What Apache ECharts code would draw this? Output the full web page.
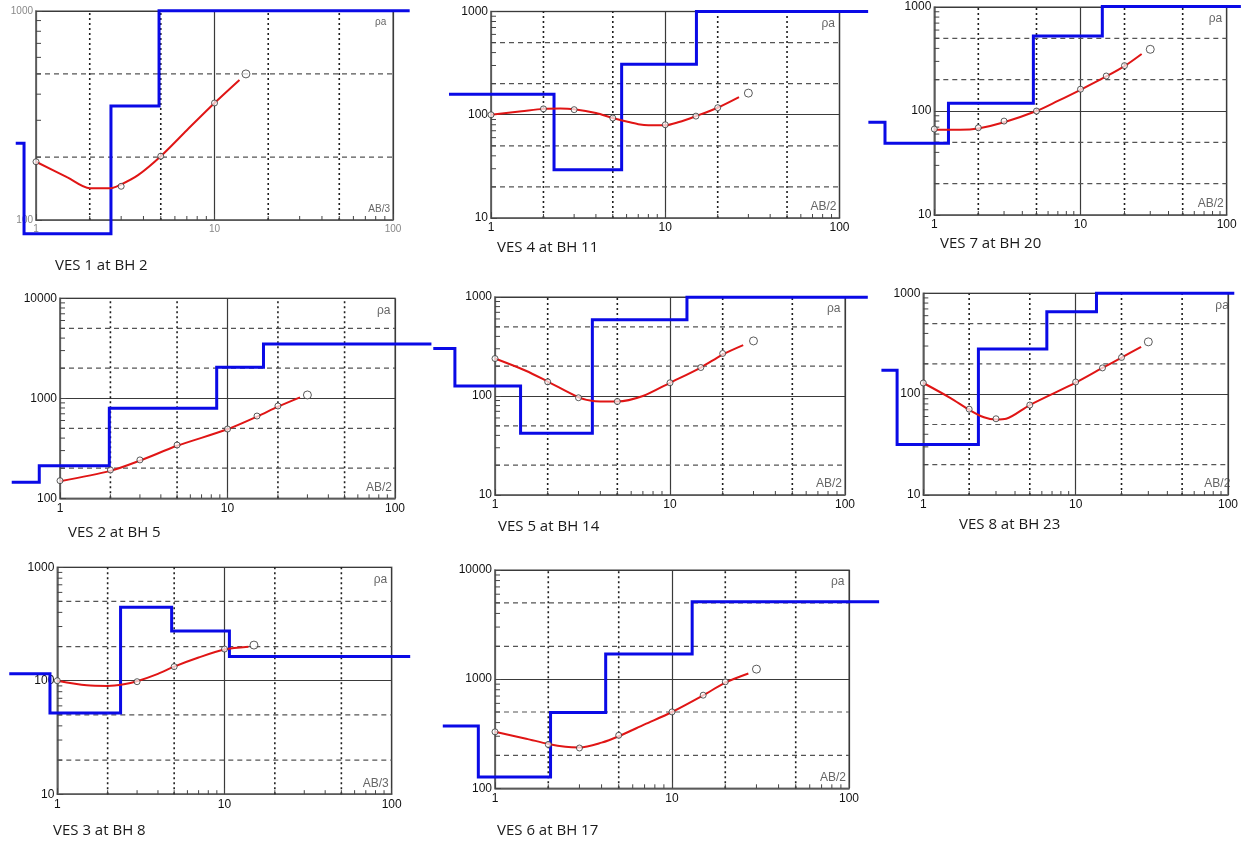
<!DOCTYPE html>
<html><head><meta charset="utf-8">
<script src="https://cdn.jsdelivr.net/npm/echarts@6/dist/echarts.min.js"></script>
<style>html,body{margin:0;padding:0;background:#fff}#c{width:1241px;height:844px}</style>
</head><body><div id="c"></div>
<script>
// ================= DATA =================
const titles = ['VES 1 at BH 2','VES 4 at BH 11','VES 7 at BH 20','VES 2 at BH 5','VES 5 at BH 14','VES 8 at BH 23','VES 3 at BH 8','VES 6 at BH 17'];
const xAxisNames = ['AB/3','AB/2','AB/2','AB/2','AB/2','AB/2','AB/3','AB/2'];
const yAxisName = 'ρa';
const xRange = [1, 100];
const xGridVals = [2, 5, 20, 50];
const yRanges = [[100,1000],[10,1000],[10,1000],[100,10000],[10,1000],[10,1000],[10,1000],[100,10000]];
const yGridVals = [[200,500],[20,50,200,500],[20,50,200,500],[200,500,2000,5000],[20,50,200,500],[20,50,200,500],[20,50,200,500],[200,500,2000,5000]];
const ab8 = [1, 2, 3, 5, 10, 15, 20, 30];

// VES 1
const ves1ModelAB = [0.77, 0.857, 2.63, 4.89, 124];
const ves1ModelRho = [233, 86, 351, 1003];
const ves1ObsAB = [1, 3, 5, 10, 15];
const ves1ObsRho = [190, 145, 202, 363, 500];
const ves1CurveAB = [1, 1.5, 2, 2.63, 2.95, 3.73, 5, 7, 10, 13.8];
const ves1CurveRho = [190, 160, 142, 142, 147, 164, 202, 269, 363, 468];
// VES 4
const ves4ModelAB = [0.574, 2.30, 5.62, 15.1, 146];
const ves4ModelRho = [158, 29.4, 308, 1000];
const ves4ObsRho = [100, 114, 112, 93, 80, 97, 117, 162];
const ves4CurveAB = [1, 1.5, 2, 2.5, 3, 4, 5, 6, 7, 8, 10, 12, 15, 20, 26.5];
const ves4CurveRho = [100, 108, 114, 115, 113, 104, 93, 86, 81, 79, 79, 85, 97, 117, 148];
// VES 7
const ves7ModelAB = [0.354, 0.46, 1.25, 4.76, 14.1, 125];
const ves7ModelRho = [78, 49, 119, 526, 1010];
const ves7ObsRho = [67, 69, 80, 100, 162, 217, 273, 392];
const ves7CurveAB = [1, 1.5, 2, 3, 5, 7, 10, 15, 20, 26.2];
const ves7CurveRho = [66, 66, 68, 78, 100, 125, 160, 215, 270, 353];
// VES 2
const ves2ModelAB = [0.515, 0.752, 1.97, 8.62, 16.4, 165];
const ves2ModelRho = [145, 212, 794, 2040, 3490];
const ves2ObsRho = [150, 192, 242, 341, 493, 665, 838, 1080];
const ves2CurveAB = [1, 2, 3, 5, 10, 15, 20, 27.1];
const ves2CurveRho = [148, 188, 238, 335, 490, 655, 825, 1023];
// VES 5
const ves5ModelAB = [0.444, 0.59, 1.40, 3.6, 12.5, 135];
const ves5ModelRho = [301, 126, 42, 590, 995];
const ves5ObsRho = [239, 139, 96, 88, 136, 194, 269, 360];
const ves5CurveAB = [1, 1.5, 2, 3, 3.5, 4, 5, 7, 10, 15, 20, 26.2];
const ves5CurveRho = [239, 180, 140, 97, 90, 88, 88, 100, 136, 194, 262, 326];
// VES 8
const ves8ModelAB = [0.531, 0.673, 2.30, 6.47, 13.7, 110];
const ves8ModelRho = [173, 31.6, 280, 656, 1000];
const ves8ObsRho = [129, 71, 57, 78, 132, 182, 231, 330];
const ves8CurveAB = [1, 1.5, 2, 2.5, 3, 3.5, 5, 10, 15, 20, 26.9];
const ves8CurveRho = [129, 92, 70, 59, 56, 57, 78, 130, 182, 230, 295];
// VES 3
const ves3ModelAB = [0.516, 0.904, 2.39, 4.83, 10.7, 129];
const ves3ModelRho = [115, 52, 443, 274, 163];
const ves3ObsAB = [1, 3, 5, 10, 15];
const ves3ObsRho = [100, 98, 133, 190, 206];
const ves3CurveAB = [1, 1.5, 2, 2.5, 3, 4, 5, 7, 10, 13.9];
const ves3CurveRho = [100, 91, 90, 93, 99, 115, 133, 160, 188, 199];
// VES 6
const ves6ModelAB = [0.507, 0.805, 2.06, 4.22, 13.0, 148];
const ves6ModelRho = [373, 127, 495, 1696, 5118];
const ves6ObsRho = [329, 252, 234, 306, 501, 713, 945, 1235];
const ves6CurveAB = [1, 1.5, 2, 2.5, 3, 4, 5, 7, 10, 15, 20, 27];
const ves6CurveRho = [329, 285, 255, 240, 237, 262, 300, 385, 500, 710, 930, 1128];

// ================= LAYOUT (pixels) =================
const layout = [
  {left:36,    top:11,    width:357,   height:209},
  {left:491,   top:11.5,  width:348.5, height:206.5},
  {left:934.3, top:7,     width:292.4, height:208},
  {left:60,    top:298.3, width:335,   height:200},
  {left:495,   top:297,   width:350,   height:198},
  {left:923.3, top:293.3, width:310,   height:201.7},
  {left:57.3,  top:567.2, width:334.4, height:227},
  {left:495,   top:570,   width:354,   height:218.3}
];
const titlePos = [[55,266],[497,248],[940,244],[68,533],[498,527],[959,525],[53,831],[497,831]];

// ================= BUILD =================
const panels = [
  [ves1ModelAB, ves1ModelRho, ves1ObsAB, ves1ObsRho, ves1CurveAB, ves1CurveRho],
  [ves4ModelAB, ves4ModelRho, ab8, ves4ObsRho, ves4CurveAB, ves4CurveRho],
  [ves7ModelAB, ves7ModelRho, ab8, ves7ObsRho, ves7CurveAB, ves7CurveRho],
  [ves2ModelAB, ves2ModelRho, ab8, ves2ObsRho, ves2CurveAB, ves2CurveRho],
  [ves5ModelAB, ves5ModelRho, ab8, ves5ObsRho, ves5CurveAB, ves5CurveRho],
  [ves8ModelAB, ves8ModelRho, ab8, ves8ObsRho, ves8CurveAB, ves8CurveRho],
  [ves3ModelAB, ves3ModelRho, ves3ObsAB, ves3ObsRho, ves3CurveAB, ves3CurveRho],
  [ves6ModelAB, ves6ModelRho, ab8, ves6ObsRho, ves6CurveAB, ves6CurveRho]
];
const zip = (a, b) => a.map((v, i) => [v, b[i]]);
function stepPoints(xs, rhos) {
  const pts = [];
  rhos.forEach((r, i) => { pts.push([xs[i], r], [xs[i + 1], r]); });
  return pts;
}
function minorVals(lo, hi) {
  const out = [];
  for (let d = lo; d < hi; d *= 10) for (let m = 2; m <= 9; m++) out.push(d * m);
  return out;
}

const grids = [], xAxes = [], yAxes = [], series = [], graphics = [];
panels.forEach((p, i) => {
  const L = layout[i];
  const yr = yRanges[i];
  const faint = i === 0;
  grids.push({left: L.left, top: L.top, width: L.width, height: L.height, show: true,
    borderColor: '#7d7d7d', borderWidth: 1.5, backgroundColor: 'transparent'});
  const labelStyle = {fontSize: faint ? 10 : 12, color: faint ? '#888' : '#111',
    fontFamily: 'Liberation Sans', formatter: v => String(Math.round(v))};
  xAxes.push({type: 'log', logBase: 10, min: xRange[0], max: xRange[1], gridIndex: i,
    axisLine: {show: true, lineStyle: {color: '#666', width: 1.5}},
    axisTick: {show: true, inside: true, length: 6, lineStyle: {color: '#444'}},
    axisLabel: Object.assign({margin: 4}, labelStyle),
    splitLine: {show: true, lineStyle: {color: '#3a3a3a', width: 1.2}}});
  yAxes.push({type: 'log', logBase: 10, min: yr[0], max: yr[1], gridIndex: i,
    axisLine: {show: true, lineStyle: {color: '#666', width: 1.5}},
    axisTick: {show: true, inside: true, length: 6, lineStyle: {color: '#444'}},
    axisLabel: Object.assign({margin: 3}, labelStyle),
    splitLine: {show: true, lineStyle: {color: '#3a3a3a', width: 1.2}}});

  const xMinor = minorVals(xRange[0], xRange[1]);
  const yMinor = minorVals(yr[0], yr[1]);
  const yg = yGridVals[i];
  // grid lines + minor ticks
  series.push({type: 'custom', xAxisIndex: i, yAxisIndex: i, silent: true, z: 1,
    data: [[1, yr[0]]],
    renderItem: function (params, api) {
      const ch = [];
      xGridVals.forEach(v => {
        const a = api.coord([v, yr[0]]), b = api.coord([v, yr[1]]);
        ch.push({type: 'line', shape: {x1: a[0], y1: a[1], x2: b[0], y2: b[1]},
          style: {stroke: '#1e1e1e', lineWidth: 1.6, lineDash: [2, 3]}});
      });
      yg.forEach(v => {
        const a = api.coord([xRange[0], v]), b = api.coord([xRange[1], v]);
        ch.push({type: 'line', shape: {x1: a[0], y1: a[1], x2: b[0], y2: b[1]},
          style: {stroke: '#555', lineWidth: 1.2, lineDash: [5, 4]}});
      });
      xMinor.forEach(v => {
        const a = api.coord([v, yr[0]]);
        ch.push({type: 'line', shape: {x1: a[0], y1: a[1], x2: a[0], y2: a[1] - 4},
          style: {stroke: '#444', lineWidth: 1}});
      });
      yMinor.forEach(v => {
        const a = api.coord([xRange[0], v]);
        ch.push({type: 'line', shape: {x1: a[0], y1: a[1], x2: a[0] + 5, y2: a[1]},
          style: {stroke: '#444', lineWidth: 1}});
      });
      return {type: 'group', children: ch};
    }});
  // model (blue step) - custom polyline so it may run past the frame
  const modelPts = stepPoints(p[0], p[1]);
  series.push({type: 'custom', xAxisIndex: i, yAxisIndex: i, silent: true, z: 3, clip: false,
    data: [[1, yr[0]]],
    renderItem: function (params, api) {
      const pts = modelPts.map(d => api.coord(d));
      return {type: 'polyline', shape: {points: pts},
        style: {stroke: '#0a0ae6', lineWidth: 3, fill: 'none', lineJoin: 'miter'}};
    }});
  // computed curve (red)
  series.push({type: 'line', xAxisIndex: i, yAxisIndex: i, data: zip(p[4], p[5]),
    showSymbol: false, smooth: 0.3, clip: false, z: 4, lineStyle: {color: '#e01515', width: 2}});
  // observed points
  const n = p[2].length;
  series.push({type: 'scatter', xAxisIndex: i, yAxisIndex: i, data: zip(p[2], p[3]),
    symbol: 'circle', clip: false, z: 5,
    symbolSize: (v, prm) => prm.dataIndex === n - 1 ? 8 : 6,
    itemStyle: {color: 'rgba(255,255,255,0.9)', borderColor: '#333', borderWidth: 1}});

  // texts
  graphics.push({type: 'text', left: L.left + L.width - 4 - 14, top: L.top + 6,
    style: {text: yAxisName, fontSize: faint ? 10 : 12, fill: '#666', fontFamily: 'Liberation Sans'}});
  graphics.push({type: 'text', x: L.left + L.width - 3, y: L.top + L.height - 11,
    style: {text: xAxisNames[i], fontSize: faint ? 10 : 12, fill: '#666', fontFamily: 'Liberation Sans',
      align: 'right', verticalAlign: 'middle'}});
  graphics.push({type: 'text', x: titlePos[i][0], y: titlePos[i][1],
    style: {text: titles[i], fontSize: 15, fill: '#1a1a1a', fontFamily: 'Open Sans',
      align: 'left', verticalAlign: 'middle'}});
});

const chart = echarts.init(document.getElementById('c'), null, {renderer: 'canvas'});
chart.setOption({
  animation: false,
  backgroundColor: '#fff',
  grid: grids, xAxis: xAxes, yAxis: yAxes, series: series, graphic: graphics
});
</script></body></html>
